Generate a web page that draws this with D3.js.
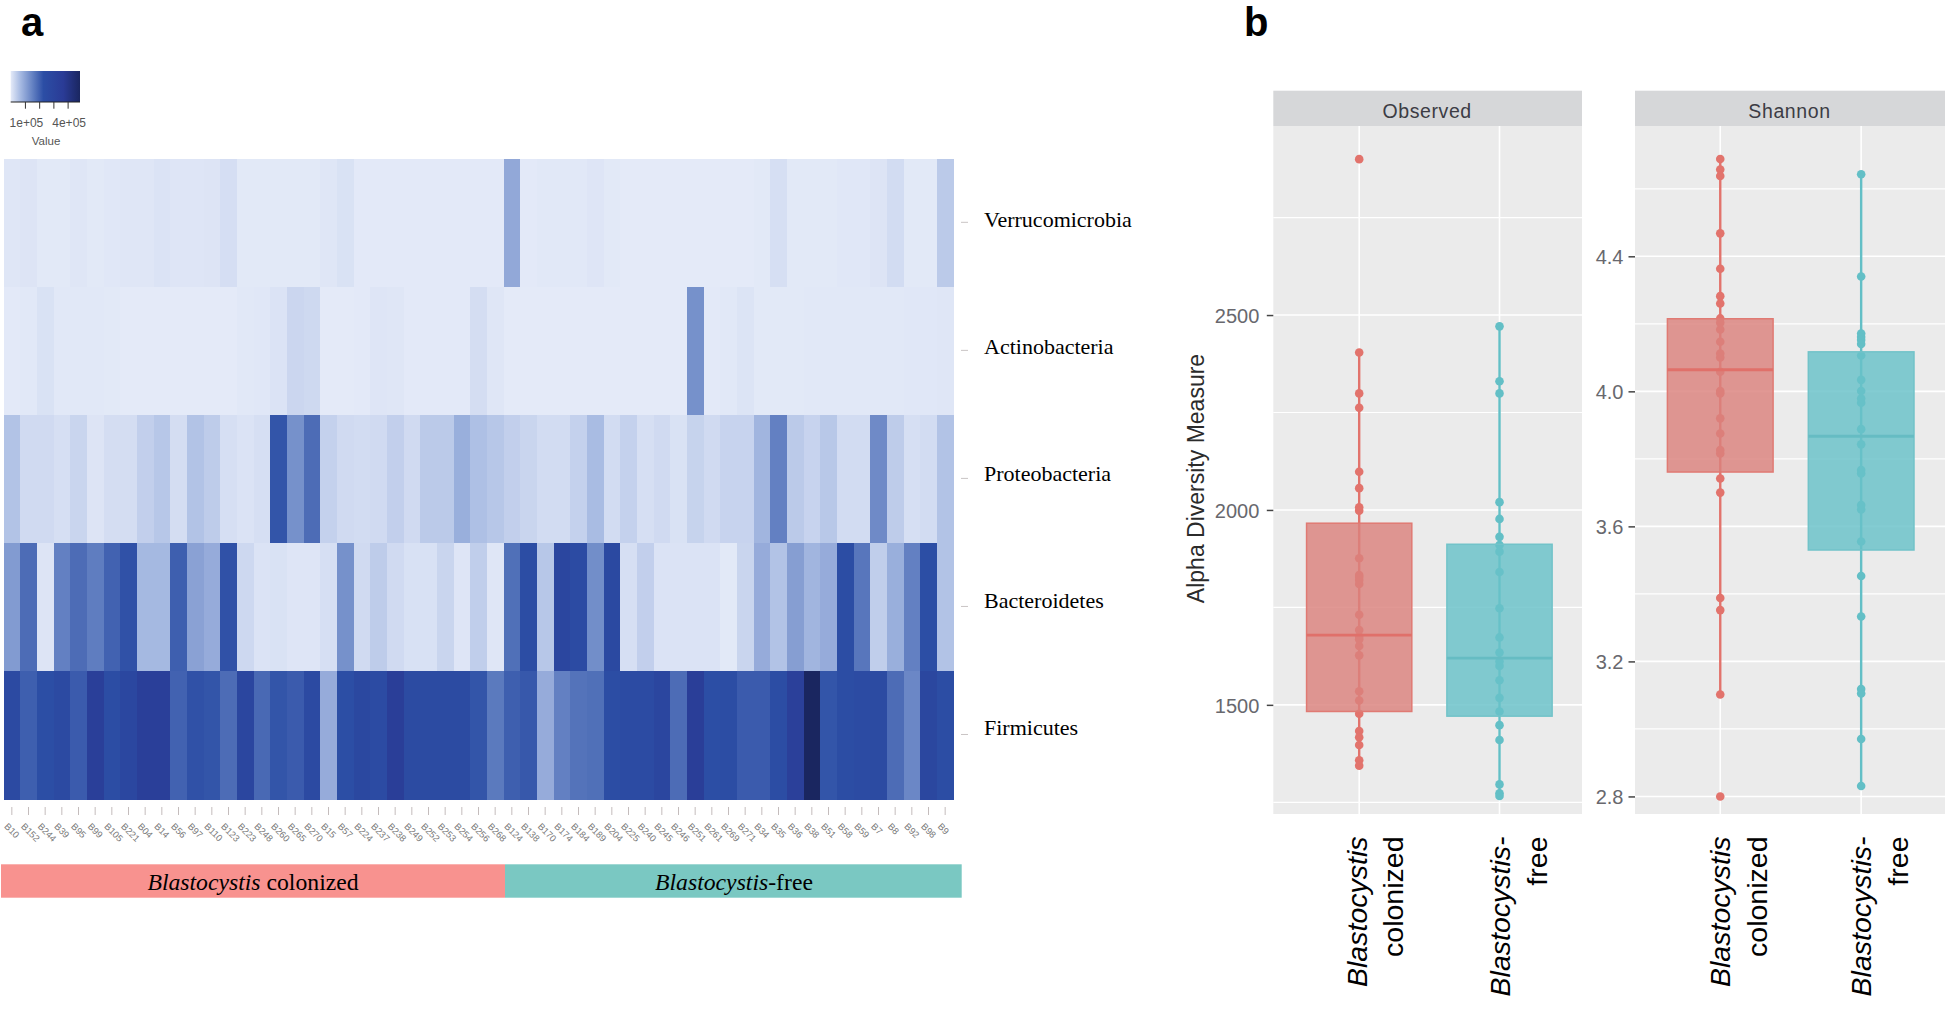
<!DOCTYPE html>
<html>
<head>
<meta charset="utf-8">
<script src="https://cdnjs.cloudflare.com/ajax/libs/d3/7.8.5/d3.min.js"></script>
<style>
  html, body { margin: 0; padding: 0; background: #fff; }
  svg { display: block; }
  .sans { font-family: "Liberation Sans", Arial, sans-serif; }
  .serif { font-family: "Liberation Serif", "Times New Roman", serif; }
</style>
</head>
<body>
<div id="chart"></div>
<script>
// heatmap, in units of 1e5
var phyla = ['Verrucomicrobia', 'Actinobacteria', 'Proteobacteria', 'Bacteroidetes', 'Firmicutes'];
var colonizedSamples = ['B10', 'B152', 'B244', 'B39', 'B95', 'B99', 'B105', 'B221', 'B04', 'B14',
  'B56', 'B97', 'B110', 'B123', 'B223', 'B248', 'B260', 'B265', 'B270', 'B15',
  'B57', 'B224', 'B237', 'B238', 'B249', 'B252', 'B253', 'B254', 'B256', 'B268'];
var freeSamples = ['B124', 'B138', 'B170', 'B174', 'B184', 'B189', 'B204', 'B225', 'B240', 'B245',
  'B246', 'B251', 'B261', 'B269', 'B271', 'B34', 'B35', 'B36', 'B38', 'B51',
  'B58', 'B59', 'B7', 'B8', 'B92', 'B98', 'B9'];

var verrucomicrobia = [.05, .08, .02, .02, .06, .02, .04, .05, .06, .1,
  .07, .07, .08, .17, .02, .02, .02, .02, .02, .06,
  .12, .01, .01, .01, .01, .01, .01, .01, .01, .01,
  .95, .01, .03, .03, .03, .07, .02, 0, 0, 0,
  0, 0, 0, 0, 0, .02, .15, .02, .02, .02,
  .04, .04, .08, .2, .02, .02, .45];
var actinobacteria = [.01, .03, .12, .03, .03, .03, .02, 0, 0, 0,
  0, 0, 0, 0, .03, .04, .1, .28, .24, 0,
  0, .01, .07, .05, .01, .01, .01, .01, .18, .05,
  0, 0, 0, 0, 0, 0, 0, 0, 0, 0,
  0, 1.3, .01, .03, .09, .02, .02, .02, .03, .03,
  .03, .03, .03, .03, .04, .04, .05];
var proteobacteria = [.55, .22, .22, .15, .3, .08, .18, .18, .38, .5,
  .18, .55, .42, .15, .1, .15, 2.2, 1.3, 1.85, .35,
  .22, .2, .22, .38, .22, .45, .45, .85, .6, .5,
  .38, .3, .2, .2, .35, .65, .2, .35, .15, .22,
  .12, .33, .22, .32, .32, .75, 1.55, .45, .32, .48,
  .2, .2, 1.4, .42, .15, .2, .55];
var bacteroidetes = [1.15, 1.85, .08, 1.55, 1.85, 1.6, 2, 2.25, .7, .7,
  2.05, 1.05, .9, 2.25, .25, .1, .12, .07, .07, .15,
  1.3, .22, .42, .22, .13, .13, .3, .07, .4, .05,
  1.8, 2.4, .5, 2.9, 2.5, 1.35, 2.7, .15, .38, .1,
  .1, .1, .1, .02, .3, .9, .55, 1.1, .75, .9,
  2.35, 1.7, .4, .85, 1.55, 2.3, .55];
var firmicutes = [2.6, 2.05, 2.3, 2.6, 2.1, 3.4, 2.4, 2.8, 3.4, 3.4,
  2, 2.25, 2.2, 1.85, 2.9, 1.9, 2.2, 2.1, 2.6, .9,
  2.3, 2.75, 2.5, 3.5, 2.55, 2.55, 2.55, 2.55, 2.2, 1.65,
  2.05, 2.15, .9, 1.55, 1.75, 1.8, 2.35, 2.5, 2.5, 2.9,
  1.85, 3.5, 2.3, 2.35, 2.1, 2.1, 2.35, 3.3, 4.87, 2.2,
  2.4, 2.5, 2.55, 1.85, 1.45, 2.85, 2.4];
var heatRows = [verrucomicrobia, actinobacteria, proteobacteria, bacteroidetes, firmicutes];

var colourStops = [0, .65, 1.6, 2.3, 3.7, 4.87];
var colourRange = ['#e4eaf8', '#a9bce3', '#5f7dc0', '#2c4ea5', '#2a3b96', '#1a2660'];
var legendTicks = [1, 2, 3, 4];

// alpha diversity
var groups = ['colonized', 'free'];

var observedColonized = [2900, 2404, 2299, 2262, 2098, 2056, 2007, 1998, 1876, 1833, 1828, 1820, 1810,
  1731, 1692, 1675, 1668, 1651, 1627, 1535, 1511, 1477, 1433, 1417, 1397, 1358, 1344];
var observedFree = [2471, 2330, 2299, 2020, 1977, 1931, 1910, 1893, 1841, 1748, 1673, 1634, 1611,
  1600, 1563, 1518, 1483, 1448, 1410, 1296, 1273, 1266];
var shannonColonized = [4.688, 4.657, 4.638, 4.468, 4.363, 4.282, 4.26, 4.216, 4.203, 4.183, 4.147,
  4.112, 4.1, 4.058, 4.001, 3.994, 3.92, 3.875, 3.826, 3.816, 3.742, 3.7, 3.388, 3.352, 3.102, 2.8];
var shannonFree = [4.643, 4.34, 4.171, 4.161, 4.152, 4.14, 4.106, 4.034, 4.001, 3.979, 3.966, 3.888,
  3.843, 3.767, 3.757, 3.663, 3.65, 3.555, 3.453, 3.333, 3.118, 3.105, 2.97, 2.831];

// [whisker low, q1, median, q3, whisker high]
var observedBoxes = [[1344, 1483, 1679, 1966, 2404], [1266, 1471, 1620, 1912, 2471]];
var shannonBoxes = [[3.102, 3.761, 4.064, 4.215, 4.688], [2.831, 3.53, 3.867, 4.117, 4.643]];

var observedMajor = [1500, 2000, 2500];
var observedMinor = [1250, 1750, 2250, 2750];
var shannonMajor = [2.8, 3.2, 3.6, 4.0, 4.4];
var shannonMinor = [3.0, 3.4, 3.8, 4.2, 4.6];

var svg = d3.select('#chart').append('svg')
  .attr('width', 1956)
  .attr('height', 1012);

var samples = colonizedSamples.concat(freeSamples);

/* ---------- panel a ---------- */
var heatX = d3.scaleBand().domain(samples).range([3.5, 953.5]);
var heatY = d3.scaleBand().domain(phyla).range([159.3, 799.5]);
var heatColour = d3.scaleLinear().domain(colourStops).range(colourRange).clamp(true);

var heatLayer = svg.append('g').attr('shape-rendering', 'crispEdges');
heatRows.forEach(function(row, i) {
  heatLayer.selectAll('rect.r' + i).data(row)
    .enter().append('rect')
    .attr('class', 'r' + i)
    .attr('x', function(d, j) { return heatX(samples[j]); })
    .attr('y', heatY(phyla[i]))
    .attr('width', heatX.bandwidth() + 0.5)
    .attr('height', heatY.bandwidth() + 0.5)
    .attr('fill', function(d) { return heatColour(d); });
});

// phylum labels
var rowAxis = svg.append('g')
  .attr('class', 'serif')
  .attr('transform', 'translate(961,-1)')
  .call(d3.axisRight(heatY).tickSize(7).tickPadding(16));
rowAxis.select('.domain').remove();
rowAxis.selectAll('line').attr('stroke', '#c9c4c4');
rowAxis.selectAll('text')
  .attr('font-size', 22)
  .attr('font-family', '"Liberation Serif", serif')
  .attr('fill', '#000')
  .attr('y', function(d, i) { return -i; })
  .attr('dy', '0.22em');

// sample labels
var colAxis = svg.append('g')
  .attr('transform', 'translate(0,807)')
  .call(d3.axisBottom(heatX).tickSize(8));
colAxis.select('.domain').remove();
colAxis.selectAll('line').attr('stroke', '#c4bcbc');
colAxis.selectAll('text')
  .attr('font-size', 9.3)
  .attr('font-family', '"Liberation Sans", sans-serif')
  .attr('fill', '#777')
  .attr('text-anchor', 'start')
  .attr('dy', 0)
  .attr('y', 0)
  .attr('transform', 'translate(-8,20) rotate(45)');

// group bars
var barSplit = 505;
svg.append('rect').attr('x', 1).attr('y', 864.3).attr('width', barSplit - 1).attr('height', 33.4).attr('fill', '#f8928f');
svg.append('rect').attr('x', barSplit).attr('y', 864.3).attr('width', 961.7 - barSplit).attr('height', 33.4).attr('fill', '#7ac8c2');

var barText = svg.append('text').attr('class', 'serif').attr('x', 253).attr('y', 890)
  .attr('font-size', 23.7).attr('text-anchor', 'middle').attr('fill', '#000');
barText.append('tspan').attr('font-style', 'italic').text('Blastocystis');
barText.append('tspan').text(' colonized');
var barText2 = svg.append('text').attr('class', 'serif').attr('x', 734).attr('y', 890)
  .attr('font-size', 23.7).attr('text-anchor', 'middle').attr('fill', '#000');
barText2.append('tspan').attr('font-style', 'italic').text('Blastocystis');
barText2.append('tspan').text('-free');

// colour key
var keyX = d3.scaleLinear().domain([0, 4.87]).range([10.7, 80]);
var gradient = svg.append('defs').append('linearGradient').attr('id', 'key');
gradient.selectAll('stop').data(colourStops)
  .enter().append('stop')
  .attr('offset', function(d) { return d / 4.87; })
  .attr('stop-color', function(d) { return heatColour(d); });
svg.append('rect').attr('x', 10.7).attr('y', 71).attr('width', 69.3).attr('height', 31).attr('fill', 'url(#key)');
var keyAxis = svg.append('g')
  .attr('transform', 'translate(0,102)')
  .call(d3.axisBottom(keyX).tickValues(legendTicks).tickSize(6.7).tickPadding(10)
    .tickFormat(function(d) { return d === 1 || d === 4 ? d + 'e+05' : ''; }));
keyAxis.select('.domain').attr('d', 'M10.7,0H80').attr('stroke', '#222');
keyAxis.selectAll('line').attr('stroke', '#333');
keyAxis.selectAll('text')
  .attr('font-size', 12)
  .attr('font-family', '"Liberation Sans", sans-serif')
  .attr('fill', '#555')
  .attr('dx', 1);
svg.append('text').attr('class', 'sans').attr('x', 46).attr('y', 145)
  .attr('font-size', 11.5).attr('text-anchor', 'middle').attr('fill', '#555').text('Value');

svg.append('text').attr('class', 'sans').attr('x', 21).attr('y', 36)
  .attr('font-size', 40).attr('font-weight', 'bold').text('a');
svg.append('text').attr('class', 'sans').attr('x', 1244).attr('y', 36)
  .attr('font-size', 40).attr('font-weight', 'bold').text('b');

/* ---------- panel b ---------- */
var groupColours = { colonized: '#e2736c', free: '#63bfc6' };
var boxFills = { colonized: '#da827d', free: '#69c1c8' };
var boxStrokes = { colonized: '#e07a73', free: '#72c3c9' };
var medianColours = { colonized: '#e0706a', free: '#66bcc3' };

function drawPanel(opts) {
  var x0 = opts.x0, x1 = opts.x1;
  var top = 126, bottom = 814;
  var x = d3.scalePoint().domain(groups).range([x0 + opts.shift, x1 + opts.shift]).padding(0.6);
  var y = d3.scaleLinear().domain(opts.domain).range([bottom, top]);
  var g = svg.append('g');

  g.append('rect').attr('x', x0).attr('y', top).attr('width', x1 - x0).attr('height', bottom - top).attr('fill', '#ebebeb');
  g.append('rect').attr('x', x0).attr('y', 90.7).attr('width', x1 - x0).attr('height', top - 90.7).attr('fill', '#d6d7d9');
  g.append('text').attr('class', 'sans').attr('x', (x0 + x1) / 2 - 0.5).attr('y', 118)
    .attr('font-size', 19.5).attr('letter-spacing', 0.6).attr('text-anchor', 'middle').attr('fill', '#3c3c44').text(opts.title);

  g.selectAll('line.minor').data(opts.minor).enter().append('line')
    .attr('class', 'minor')
    .attr('x1', x0).attr('x2', x1)
    .attr('y1', function(d) { return y(d); }).attr('y2', function(d) { return y(d); })
    .attr('stroke', '#fff').attr('stroke-width', 1.2);
  g.selectAll('line.major').data(opts.major).enter().append('line')
    .attr('class', 'major')
    .attr('x1', x0).attr('x2', x1)
    .attr('y1', function(d) { return y(d); }).attr('y2', function(d) { return y(d); })
    .attr('stroke', '#fff').attr('stroke-width', 1.6);
  g.selectAll('line.vert').data(groups).enter().append('line')
    .attr('class', 'vert')
    .attr('x1', function(d) { return x(d); }).attr('x2', function(d) { return x(d); })
    .attr('y1', top).attr('y2', bottom)
    .attr('stroke', '#fff').attr('stroke-width', 1.6);

  // y axis
  var axis = g.append('g')
    .attr('transform', 'translate(' + x0 + ',0)')
    .call(d3.axisLeft(y).tickValues(opts.major).tickSize(6.5).tickPadding(opts.padding).tickFormat(opts.format));
  axis.select('.domain').remove();
  axis.selectAll('line').attr('stroke', '#444').attr('stroke-width', 1.5);
  axis.selectAll('text')
    .attr('font-size', 20)
    .attr('font-family', '"Liberation Sans", sans-serif')
    .attr('fill', '#68686e')
    .attr('y', 1);

  groups.forEach(function(name, i) {
    var s = opts.boxes[i];
    var cx = x(name);
    var w = x.step() * 0.75;
    g.append('line')
      .attr('x1', cx).attr('x2', cx)
      .attr('y1', y(s[4])).attr('y2', y(s[0]))
      .attr('stroke', groupColours[name]).attr('stroke-width', 2.4);
    g.selectAll('circle.p' + i).data(opts.points[i]).enter().append('circle')
      .attr('class', 'p' + i)
      .attr('cx', cx)
      .attr('cy', function(d) { return y(d); })
      .attr('r', 4.3)
      .attr('fill', groupColours[name]);
    g.append('rect')
      .attr('x', cx - w / 2).attr('width', w)
      .attr('y', y(s[3])).attr('height', y(s[1]) - y(s[3]))
      .attr('fill', boxFills[name]).attr('fill-opacity', 0.825)
      .attr('stroke', boxStrokes[name]).attr('stroke-width', 1.5);
    g.append('line')
      .attr('x1', cx - w / 2).attr('x2', cx + w / 2)
      .attr('y1', y(s[2])).attr('y2', y(s[2]))
      .attr('stroke', medianColours[name]).attr('stroke-width', 2.8);

    // rotated category label
    var label = g.append('g').attr('class', 'sans')
      .attr('transform', 'translate(' + cx + ',836.5) rotate(-90)');
    label.append('text').attr('y', opts.labelY[i][0]).attr('text-anchor', 'end')
      .attr('font-size', 28.5).attr('font-style', 'italic').attr('fill', '#000')
      .text(name === 'free' ? 'Blastocystis-' : 'Blastocystis');
    label.append('text').attr('y', opts.labelY[i][1]).attr('text-anchor', 'end')
      .attr('font-size', 28.5).attr('fill', '#000')
      .text(name === 'free' ? 'free' : 'colonized');
  });
}

drawPanel({
  title: 'Observed', x0: 1273.3, x1: 1582, shift: 1.7, padding: 7.5,
  domain: [1220, 2985],
  major: observedMajor, minor: observedMinor,
  format: d3.format('d'),
  labelY: [[8, 44], [10, 47]],
  boxes: observedBoxes, points: [observedColonized, observedFree]
});
drawPanel({
  title: 'Shannon', x0: 1635, x1: 1945, shift: 0.7, padding: 5,
  domain: [2.748, 4.786],
  major: shannonMajor, minor: shannonMinor,
  format: d3.format('.1f'),
  labelY: [[10, 47], [10, 47]],
  boxes: shannonBoxes, points: [shannonColonized, shannonFree]
});

svg.append('text').attr('class', 'sans')
  .attr('transform', 'translate(1204,478.5) rotate(-90)')
  .attr('font-size', 23).attr('text-anchor', 'middle').attr('fill', '#2b2b2b')
  .text('Alpha Diversity Measure');
</script>
</body>
</html>
